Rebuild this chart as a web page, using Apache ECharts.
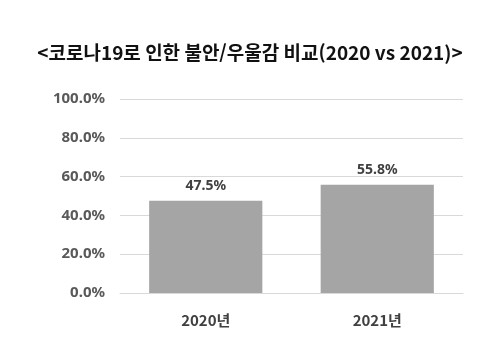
<!DOCTYPE html>
<html lang="ko">
<head>
    <meta charset="UTF-8">
    <script src="https://cdn.jsdelivr.net/npm/echarts@6/dist/echarts.min.js"></script>
    <title>불안/우울감 비교</title>
</head>
<body style="margin:0;background:#ffffff">
    <div id="main" style="width:500px;height:352px;"></div>
    <script type="text/javascript">
        var years = ['2020년', '2021년'];
        var values = [47.5, 55.8];
        var yTicks = [0, 20, 40, 60, 80, 100];

        var chart = echarts.init(document.getElementById('main'));
        chart.setOption({
            animation: false,
            title: {
                text: '<코로나19로 인한 불안/우울감 비교(2020 vs 2021)>',
                left: 'center',
                top: 38,
                textStyle: {
                    fontFamily: 'Noto Sans CJK KR',
                    fontSize: 19,
                    fontWeight: 'bold',
                    color: '#111'
                }
            },
            grid: { left: 120, right: 37, top: 99, bottom: 59 },
            xAxis: {
                type: 'category',
                data: years,
                axisLine: { lineStyle: { color: '#d9d9d9' } },
                axisTick: { show: false },
                axisLabel: {
                    margin: 20,
                    color: '#404040',
                    fontSize: 15,
                    fontWeight: 'bold',
                    fontFamily: 'Noto Sans CJK KR'
                }
            },
            yAxis: {
                type: 'value',
                min: yTicks[0],
                max: yTicks[yTicks.length - 1],
                interval: 20,
                axisLine: { show: false },
                axisTick: { show: false },
                splitLine: { lineStyle: { color: '#d9d9d9' } },
                axisLabel: {
                    margin: 15,
                    color: '#595959',
                    fontSize: 15,
                    fontWeight: 'bold',
                    fontFamily: 'Noto Sans'
                    ,formatter: function (v) { return v.toFixed(1) + '%'; }
                }
            },
            series: [{
                type: 'bar',
                data: values,
                barWidth: '66%',
                itemStyle: { color: '#a5a5a5' },
                label: {
                    show: true,
                    position: 'top',
                    distance: 8,
                    color: '#404040',
                    fontSize: 14,
                    fontWeight: 'bold',
                    fontFamily: 'Noto Sans',
                    formatter: function (p) { return p.value.toFixed(1) + '%'; }
                }
            }]
        });
    </script>
</body>
</html>
